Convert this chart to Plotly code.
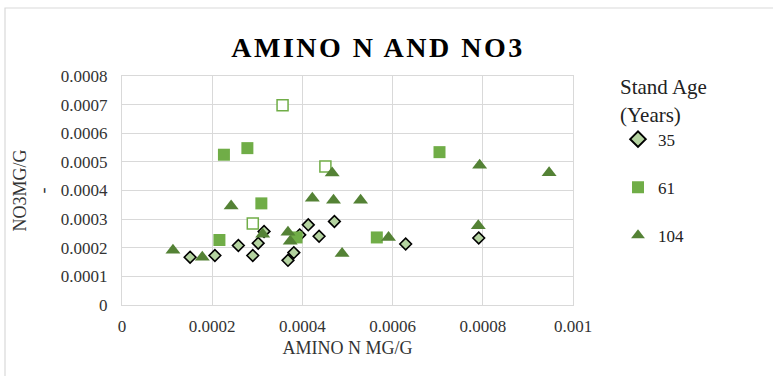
import plotly.graph_objects as go

# ---- data ----
age35_x = [0.000151, 0.000206, 0.000258, 0.000290, 0.000302, 0.000315, 0.000368,
           0.000381, 0.000394, 0.000413, 0.000437, 0.000471, 0.000629, 0.000791]
age35_y = [0.000167, 0.000173, 0.000208, 0.000173, 0.000216, 0.000257, 0.000156,
           0.000183, 0.000245, 0.000280, 0.000240, 0.000292, 0.000213, 0.000234]

age61_x = [0.000226, 0.000278, 0.000309, 0.000216, 0.000387, 0.000704, 0.000565]
age61_y = [0.000525, 0.000548, 0.000355, 0.000227, 0.000236, 0.000534, 0.000236]

age61_open_x = [0.000356, 0.000290, 0.000451]
age61_open_y = [0.000698, 0.000285, 0.000484]

age104_x = [0.000113, 0.000178, 0.000242, 0.000312, 0.000368, 0.000373, 0.000422,
            0.000466, 0.000469, 0.000529, 0.000488, 0.000591, 0.000793, 0.000790, 0.000947]
age104_y = [0.000191, 0.000167, 0.000346, 0.000247, 0.000254, 0.000223, 0.000373,
            0.000461, 0.000366, 0.000366, 0.000180, 0.000236, 0.000488, 0.000277, 0.000462]

x_tickvals = [0, 0.0002, 0.0004, 0.0006, 0.0008, 0.001]
x_ticktext = ["0", "0.0002", "0.0004", "0.0006", "0.0008", "0.001"]
y_tickvals = [0, 0.0001, 0.0002, 0.0003, 0.0004, 0.0005, 0.0006, 0.0007, 0.0008]
y_ticktext = ["0", "0.0001", "0.0002", "0.0003", "0.0004", "0.0005", "0.0006", "0.0007", "0.0008"]

FONT = "Liberation Serif"
GRID = "#d9d9d9"

fig = go.Figure()
fig.add_trace(go.Scatter(
    x=age35_x, y=age35_y, mode="markers", name="35", legendgroup="a",
    marker=dict(symbol="diamond", size=9, color="#b4d3a0",
                line=dict(color="#000000", width=1.6))))
fig.add_trace(go.Scatter(
    x=age61_x, y=age61_y, mode="markers", name="61", legendgroup="b",
    marker=dict(symbol="square", size=12, color="#70ad47",
                line=dict(color="#70ad47", width=0))))
fig.add_trace(go.Scatter(
    x=age61_open_x, y=age61_open_y, mode="markers", name="61", legendgroup="b",
    showlegend=False,
    marker=dict(symbol="square", size=11, color="#ffffff",
                line=dict(color="#70ad47", width=1.5))))
fig.add_trace(go.Scatter(
    x=age104_x, y=age104_y, mode="markers", name="104", legendgroup="c",
    marker=dict(symbol="triangle-up", size=13, color="#548235",
                line=dict(color="#548235", width=0))))

axis_common = dict(showgrid=True, gridcolor=GRID, gridwidth=1.2, zeroline=False,
                   showline=True, linecolor=GRID, linewidth=1.2, mirror=True,
                   ticks="", tickfont=dict(family=FONT, size=17, color="#333333"))

fig.update_xaxes(range=[0, 0.001], tickvals=x_tickvals, ticktext=x_ticktext,
                 ticklabelstandoff=5,
                 title=dict(text="AMINO N MG/G", font=dict(family=FONT, size=18, color="#333333"),
                            standoff=6),
                 **axis_common)
fig.update_yaxes(range=[0, 0.0008], tickvals=y_tickvals, ticktext=y_ticktext,
                 ticklabelstandoff=10,
                 title=dict(text="NO3MG/G<br>-", font=dict(family=FONT, size=18, color="#333333"),
                            standoff=6),
                 **axis_common)

fig.update_layout(
    width=773, height=376,
    margin=dict(l=122, r=200, t=76, b=71),
    paper_bgcolor="white", plot_bgcolor="white",
    font=dict(family=FONT, color="#333333"),
    title=dict(text='<b><span style="letter-spacing:2.5px">AMINO N AND NO3</span></b>',
               font=dict(family=FONT, size=28, color="#000000"),
               x=378 / 773, xanchor="center", xref="container",
               y=1 - 47 / 376, yanchor="middle", yref="container"),
    legend=dict(title=dict(text="Stand Age<br>(Years)", font=dict(family=FONT, size=21, color="#222222")),
                font=dict(family=FONT, size=17, color="#222222"),
                x=(618 - 122) / 451, xanchor="left", y=1 + (76 - 67) / 229, yanchor="top",
                tracegroupgap=23, itemsizing="constant", bgcolor="rgba(0,0,0,0)",
                maxheight=376),
    showlegend=True,
    shapes=[dict(type="path", xref="paper", yref="paper",
                 path="M -0.2594 -1 L -0.2594 1.2969 L 2 1.2969",
                 line=dict(color=GRID, width=1.2), layer="below")],
)

fig.write_html("out.html", config={"displayModeBar": False},
               post_script="document.body.style.margin='0';")
